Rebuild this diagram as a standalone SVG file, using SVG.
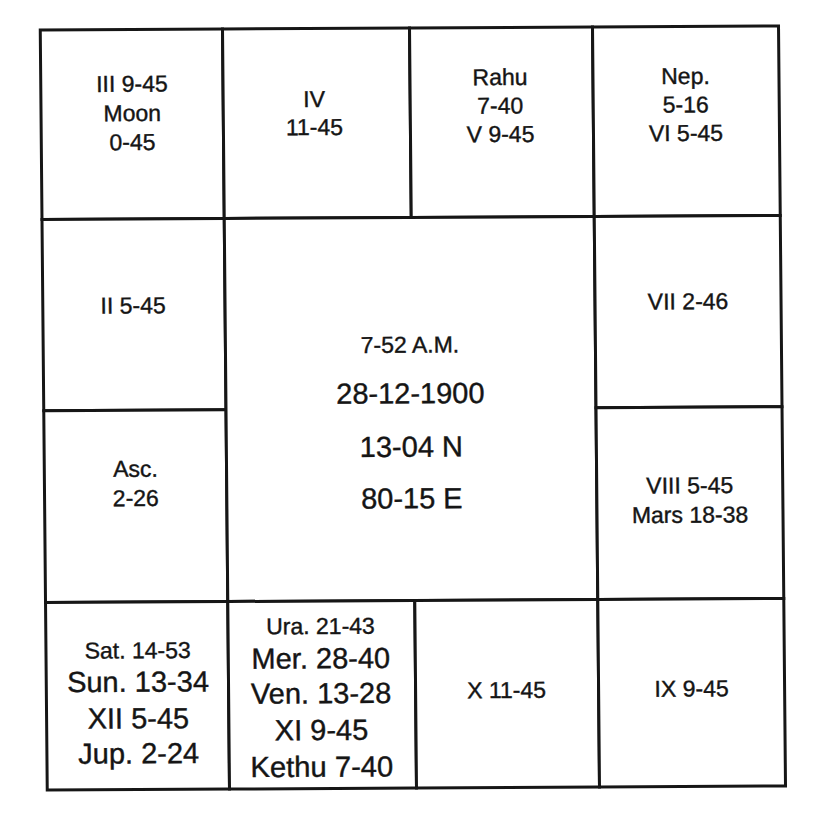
<svg xmlns="http://www.w3.org/2000/svg" width="824" height="837" viewBox="0 0 824 837">
<style>
.cell{fill:#fff;stroke:#161616;stroke-width:3}
.t{font-family:"Liberation Sans",Arial,Helvetica,sans-serif;text-anchor:middle;fill:#151515;stroke:#151515;stroke-width:0.4}
.s{font-size:23px}
.l{font-size:29px}
</style>
<rect width="824" height="837" fill="#fff"/>
<g transform="matrix(1,-0.0055,0.0092,1,-3.75,2.27)">
<g id="house3">
<rect class="cell" x="43.75" y="28" width="182.25" height="189.5"/>
<text class="t s" x="134.9" y="90.2">III 9-45</text>
<text class="t s" x="134.9" y="119.5">Moon</text>
<text class="t s" x="134.9" y="148.5">0-45</text>
</g>
<g id="house4">
<rect class="cell" x="226" y="28" width="187" height="189.5"/>
<text class="t s" x="317" y="106.5">IV</text>
<text class="t s" x="317" y="134.5">11-45</text>
</g>
<g id="house5">
<rect class="cell" x="413" y="28" width="183" height="189.5"/>
<text class="t s" x="503" y="85.5">Rahu</text>
<text class="t s" x="503" y="114">7-40</text>
<text class="t s" x="503" y="142.5">V 9-45</text>
</g>
<g id="house6">
<rect class="cell" x="596" y="28" width="186" height="189.5"/>
<text class="t s" x="688.5" y="85.5">Nep.</text>
<text class="t s" x="688.5" y="114">5-16</text>
<text class="t s" x="688.5" y="142.5">VI 5-45</text>
</g>
<g id="house2">
<rect class="cell" x="43.75" y="217.5" width="182.25" height="191.2"/>
<text class="t s" x="134" y="311.8">II 5-45</text>
</g>
<g id="house1">
<rect class="cell" x="43.75" y="408.7" width="182.25" height="191.8"/>
<text class="t s" x="135" y="475.2">Asc.</text>
<text class="t s" x="135" y="504.5">2-26</text>
</g>
<g id="centre">
<rect class="cell" x="226" y="217.5" width="370" height="383"/>
<text class="t s" x="410.5" y="352.7">7-52 A.M.</text>
<text class="t l" x="410.5" y="403.3">28-12-1900</text>
<text class="t l" x="411" y="456.7">13-04 N</text>
<text class="t l" x="411" y="508.3">80-15 E</text>
</g>
<g id="house7">
<rect class="cell" x="596" y="217.5" width="186" height="191.2"/>
<text class="t s" x="689" y="310.8">VII 2-46</text>
</g>
<g id="house8">
<rect class="cell" x="596" y="408.7" width="186" height="191.8"/>
<text class="t s" x="689" y="494.8">VIII 5-45</text>
<text class="t s" x="689" y="524.2">Mars 18-38</text>
</g>
<g id="house12">
<rect class="cell" x="43.75" y="600.5" width="182.25" height="187.5"/>
<text class="t s" x="135.5" y="656.8">Sat. 14-53</text>
<text class="t l" x="135.5" y="690.2" font-size="30">Sun. 13-34</text>
<text class="t l" x="135.5" y="726.8">XII 5-45</text>
<text class="t l" x="135.5" y="761.8" font-size="30">Jup. 2-24</text>
</g>
<g id="house11">
<rect class="cell" x="226" y="600.5" width="187" height="187.5"/>
<text class="t s" x="318.5" y="633.5">Ura. 21-43</text>
<text class="t l" x="318.5" y="667.8">Mer. 28-40</text>
<text class="t l" x="318.5" y="702.8">Ven. 13-28</text>
<text class="t l" x="318.5" y="739.5">XI 9-45</text>
<text class="t l" x="318.5" y="776.2" textLength="143" lengthAdjust="spacingAndGlyphs">Kethu 7-40</text>
</g>
<g id="house10">
<rect class="cell" x="413" y="600.5" width="183" height="187.5"/>
<text class="t s" x="504" y="698.5">X 11-45</text>
</g>
<g id="house9">
<rect class="cell" x="596" y="600.5" width="186" height="187.5"/>
<text class="t s" x="689" y="698">IX 9-45</text>
</g>
</g>
</svg>
